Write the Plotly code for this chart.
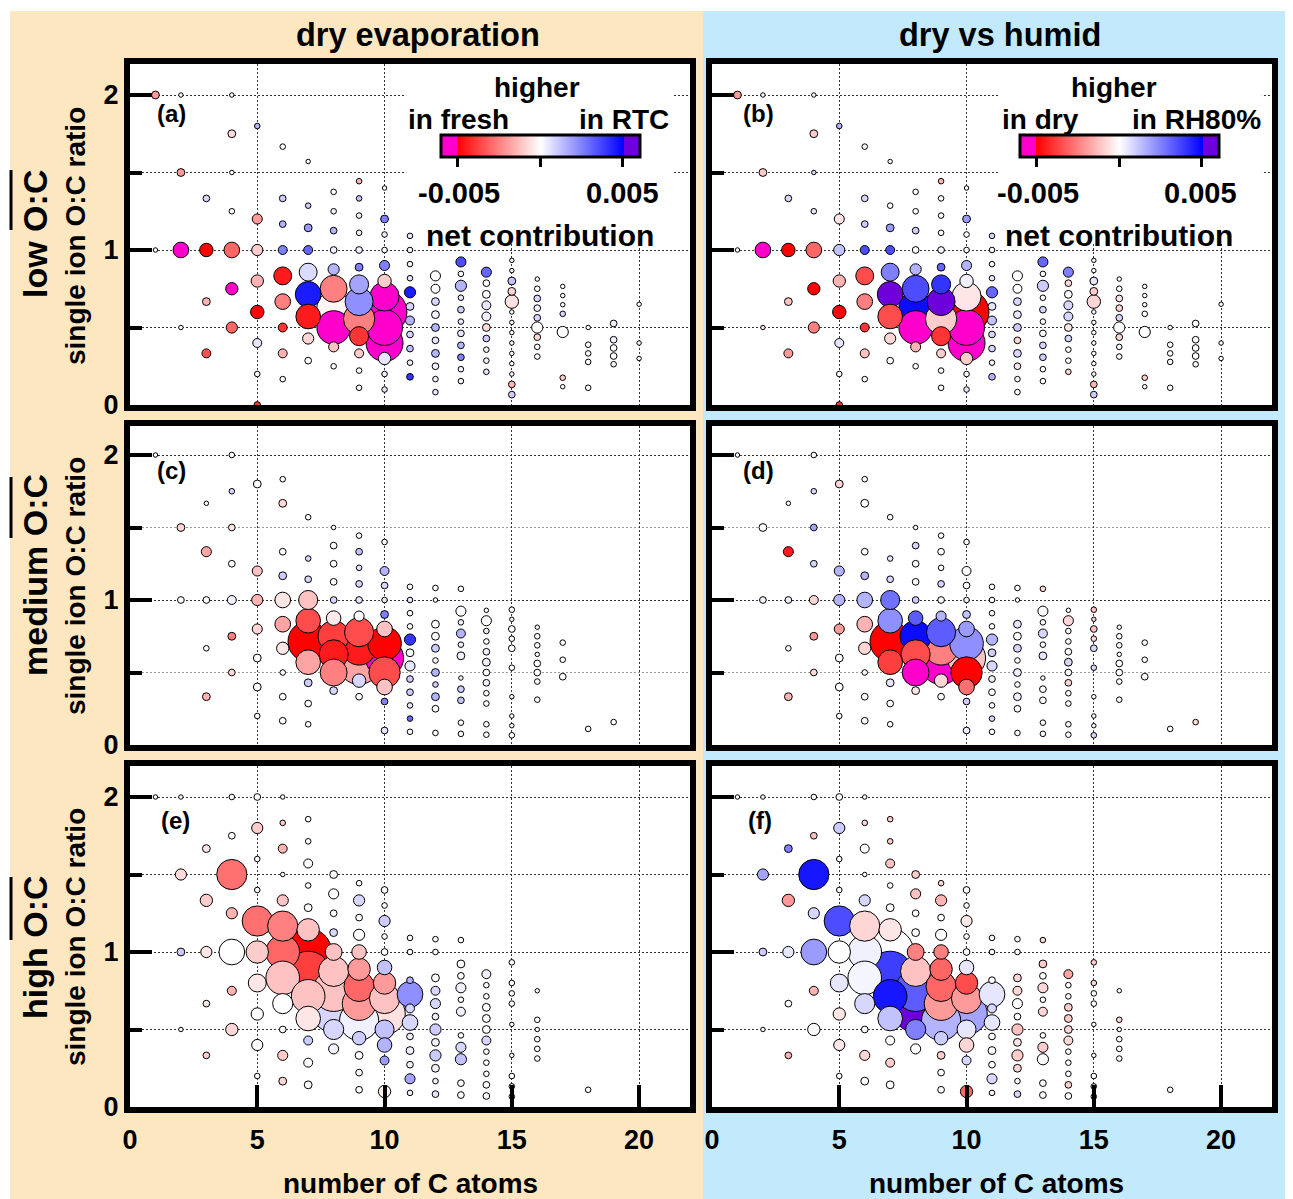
import plotly.graph_objects as go
import numpy as np

W, H = 1293, 1199
FONT = "Liberation Sans, Arial, sans-serif"

# ---------------- DATA ----------------
# each row: carbon numbers, and per carbon number: O:C ratios, relative signal (bubble size),
# net contribution (x1e-3) for "dry evaporation" (fresh vs RTC) and "dry vs humid" (dry vs RH80%)

LOW_C = [1, 2, 3, 4, 5, 6, 7, 8, 9, 10, 11, 12, 13, 14, 15, 16, 17, 18, 19, 20]
LOW_OC = [
    [2.0, 1.0],
    [2.0, 1.5, 1.0, 0.5],
    [1.333, 1.0, 0.667, 0.333],
    [2.0, 1.75, 1.5, 1.25, 1.0, 0.75, 0.5],
    [1.8, 1.2, 1.0, 0.8, 0.6, 0.4, 0.2, 0.0],
    [1.667, 1.333, 1.167, 1.0, 0.833, 0.667, 0.5, 0.333, 0.167],
    [1.571, 1.286, 1.143, 1.0, 0.857, 0.714, 0.571, 0.429, 0.286],
    [1.375, 1.25, 1.125, 1.0, 0.875, 0.75, 0.625, 0.5, 0.375, 0.25],
    [1.444, 1.333, 1.222, 1.111, 1.0, 0.889, 0.778, 0.667, 0.556, 0.444, 0.333, 0.222, 0.111],
    [1.4, 1.2, 1.1, 1.0, 0.9, 0.8, 0.7, 0.6, 0.5, 0.4, 0.3, 0.2, 0.1],
    [1.091, 1.0, 0.909, 0.818, 0.727, 0.636, 0.545, 0.455, 0.364, 0.273, 0.182],
    [0.833, 0.75, 0.667, 0.583, 0.5, 0.417, 0.333, 0.25, 0.167, 0.083],
    [0.923, 0.846, 0.769, 0.692, 0.615, 0.538, 0.462, 0.385, 0.308, 0.231, 0.154],
    [0.857, 0.786, 0.714, 0.643, 0.571, 0.5, 0.429, 0.357, 0.286, 0.214],
    [0.933, 0.867, 0.8, 0.733, 0.667, 0.6, 0.533, 0.467, 0.4, 0.333, 0.267, 0.2, 0.133, 0.067],
    [0.8125, 0.75, 0.6875, 0.625, 0.5625, 0.5, 0.4375, 0.375, 0.3125],
    [0.765, 0.706, 0.647, 0.588, 0.471, 0.176, 0.118],
    [0.5, 0.389, 0.333, 0.278, 0.111],
    [0.526, 0.421, 0.368, 0.316, 0.263],
    [0.65, 0.4, 0.3],
]
LOW_SIG = [
    [7, 4],
    [4, 7, 14, 4],
    [6, 12, 7, 8],
    [4, 7, 4, 5, 14, 11, 10],
    [5, 9, 10, 11, 12, 8, 5, 6],
    [5, 6, 6, 8, 16, 14, 8, 8, 5],
    [4, 5, 7, 8, 16, 23, 22, 10, 6],
    [5, 5, 6, 6, 10, 24, 30, 30, 9, 5],
    [5, 5, 5, 5, 6, 7, 17, 25, 28, 17, 8, 5, 5],
    [4, 7, 5, 5, 9, 12, 26, 40, 32, 33, 11, 5, 5],
    [5, 5, 5, 5, 10, 7, 8, 6, 6, 5, 6],
    [9, 8, 7, 7, 7, 6, 7, 6, 5, 5],
    [9, 5, 10, 5, 6, 5, 6, 6, 6, 5, 5],
    [9, 6, 7, 8, 8, 7, 6, 5, 5, 5],
    [4, 4, 7, 7, 12, 4, 4, 4, 4, 4, 4, 4, 6, 6],
    [4, 5, 6, 6, 6, 10, 6, 5, 5],
    [4, 4, 4, 5, 10, 5, 4],
    [4, 5, 5, 5, 5],
    [6, 6, 6, 6, 5],
    [4, 4, 4],
]
LOW_EVAP = [
    [-2, 0],
    [0, -2, -6, 0],
    [0.8, -5, -1.5, -3.5],
    [0, -0.7, 0, 0, -3, -6, -3],
    [1.5, -2, -1, -1.5, -5, 0.5, 0, -4],
    [0, 1, 1.5, 2.5, -4.5, -2.5, -4, -1.5, 0],
    [0, 1, 2, 3, 0.7, 4.5, -4.5, -0.8, 0],
    [0, 0.3, 1.5, 0.3, 1.5, -2.5, -0.2, -6, -1.2, 0],
    [-1.5, 1.2, 0.3, 0.3, 0.2, 2.5, 1.8, 2.2, -2.5, -4, -1, 0, 0],
    [0, 2.5, 0.3, 0, 2.5, -1, -6, -6, -6, -6, 0.5, 0.3, 0.5],
    [0.5, 0.2, 0.2, 0.5, 4.5, 0.8, 1.5, 0.8, 1.2, 0.3, 4],
    [0, 0, 0.8, 0.3, 1.5, 0.5, 1.5, 0.3, 0.3, 0.5],
    [3.5, 0, 1.5, 0.5, 1, 0.5, 0.5, 1.5, 2.5, 0.3, 0.3],
    [3, 0, 0, 0.5, 0.3, -0.7, 1, 0.3, 0.3, 0.5],
    [0.3, 0.3, 1.2, -0.8, -0.6, 0, 0, 0, 0, 0, 0, 0, -1.5, 1],
    [0, 0, 0.8, 0.3, 0.8, 0, -0.8, 0, 0],
    [0, 0, 0, 0.8, 0, -1, 0],
    [0, 0, 0, 0, 0],
    [0.3, 0.3, 0, 0, 0],
    [0, 0, 0],
]
LOW_HUMID = [
    [-2, 0],
    [0, -1, -6, -0.5],
    [0.8, -5, -1.2, -2],
    [0, -1, 0.8, 0.5, -3, -5, -2.5],
    [1.5, -0.5, 1.2, -1.5, -5, 0.5, 0, -4],
    [0, 0.8, 1, 3.5, -3.5, -2.5, -4, -1.2, 0],
    [0, 0, 2, 3.5, 2.5, 5.8, -3.5, -0.8, 0],
    [0, 0, 1, 0, 1.5, 3.5, 4.8, -6, -1.5, 0],
    [-1.5, 0, 0, 0, 0.2, 3, 4, 5.8, -1, -4, -1, 0, 0],
    [0, 2, 0, 0, 1.5, 0.3, -0.5, -5, -6, -6, -1, 0, 0.5],
    [0.8, 0.2, 0.2, 0.5, 3, 0.5, 1.2, 0.8, 0.8, 0.3, 1.5],
    [0, 0, 0.8, 0.5, 1, -0.8, 0.8, -0.5, 0, 0],
    [3, 0, 1, 0, 0.8, 0, 0, 0.8, 1, 0, 0],
    [2.5, -0.8, 0, 0.8, 0.8, -0.5, 0.8, 0, 0, -0.8],
    [0.3, 0, 0.5, -1, -0.8, 0, 0, 0, 0, 0, 0, 0, -1.5, 1],
    [0, 0, -0.5, -0.8, 0.8, 0, -0.8, 0, 0],
    [0, 0, 0, 0, 0, -1, 0],
    [0, 0, 0, 0, 0],
    [0, 0, 0, 0, 0],
    [0, 0, 0],
]

MED_C = [1, 2, 3, 4, 5, 6, 7, 8, 9, 10, 11, 12, 13, 14, 15, 16, 17, 18, 19]
MED_OC = [
    [2.0],
    [1.5, 1.0],
    [1.667, 1.333, 1.0, 0.667, 0.333],
    [2.0, 1.75, 1.5, 1.25, 1.0, 0.75, 0.5],
    [1.8, 1.2, 1.0, 0.8, 0.6, 0.4, 0.2],
    [1.833, 1.667, 1.333, 1.167, 1.0, 0.833, 0.667, 0.5, 0.333, 0.167],
    [1.571, 1.286, 1.143, 1.0, 0.857, 0.714, 0.571, 0.429, 0.286, 0.143],
    [1.5, 1.375, 1.25, 1.125, 1.0, 0.875, 0.75, 0.625, 0.5, 0.375],
    [1.444, 1.333, 1.222, 1.111, 1.0, 0.889, 0.778, 0.667, 0.556, 0.444, 0.333],
    [1.4, 1.2, 1.1, 1.0, 0.9, 0.8, 0.7, 0.6, 0.5, 0.4, 0.3, 0.1],
    [1.091, 1.0, 0.909, 0.818, 0.727, 0.636, 0.545, 0.455, 0.364, 0.273, 0.182, 0.091],
    [1.083, 1.0, 0.833, 0.75, 0.667, 0.583, 0.5, 0.417, 0.333, 0.25, 0.083],
    [1.077, 0.923, 0.846, 0.769, 0.692, 0.615, 0.462, 0.385, 0.308, 0.154, 0.077],
    [0.929, 0.857, 0.786, 0.714, 0.643, 0.571, 0.5, 0.429, 0.357, 0.286, 0.143, 0.071],
    [0.933, 0.867, 0.8, 0.733, 0.667, 0.533, 0.333, 0.2, 0.133, 0.067],
    [0.8125, 0.75, 0.6875, 0.625, 0.5625, 0.5, 0.4375, 0.3125],
    [0.706, 0.588, 0.471],
    [0.111],
    [0.158],
]
MED_SIG = [
    [4],
    [7, 6],
    [4, 9, 6, 5, 7],
    [5, 5, 6, 6, 8, 7, 6],
    [7, 9, 10, 9, 7, 7, 5],
    [5, 7, 6, 7, 14, 14, 11, 5, 6, 6],
    [5, 5, 6, 17, 22, 36, 22, 7, 6, 5],
    [4, 6, 6, 6, 6, 13, 28, 26, 24, 7],
    [5, 6, 5, 6, 6, 9, 26, 30, 36, 12, 6],
    [5, 8, 6, 5, 7, 14, 30, 34, 28, 14, 6, 6],
    [5, 5, 5, 5, 10, 7, 9, 6, 6, 5, 5, 5],
    [5, 4, 7, 7, 7, 5, 7, 5, 7, 6, 5],
    [5, 9, 5, 8, 5, 7, 4, 6, 6, 5, 5],
    [4, 9, 5, 5, 6, 7, 6, 6, 5, 5, 5, 5],
    [5, 4, 6, 5, 6, 5, 4, 4, 4, 5],
    [4, 5, 5, 4, 6, 6, 5, 5],
    [5, 5, 6],
    [5],
    [5],
]
MED_EVAP = [
    [0],
    [-0.8, 0],
    [0, -1.8, 0, 0, -1.5],
    [0, 0.8, -0.5, 0, 0.3, -2.5, -0.7],
    [0, -1.2, -1.5, -0.8, 0, 0, 0],
    [0, -0.7, 0, 1, -0.5, -1.8, -0.5, 0, 0, 0],
    [0, 0.8, 0.8, -1.2, -3.5, -5, -1.8, 1, 0, 0],
    [0, 0, 0, 0, 0.8, -0.4, -3.8, -4.5, -2.5, 0.8],
    [0, 1.2, 0.5, 0.8, 0.5, 0, -3.5, -4.5, -1.8, 0.8, 0],
    [0, 1.5, 0.8, 0.5, 2.5, -1.2, -5, -6, -3.5, -1.2, 2.5, 0.5],
    [0, 0.5, 0, 0, 4, 0, 0.5, 1, 1, 0.5, 3, 0],
    [0, 0, 0, 0, 1, 0, 1.5, 1, 1.5, 0, 0],
    [0, 0, 0.3, 1.5, 0.3, 0.3, 0, 1, 1.2, 0, 0],
    [0, 0, 0.3, 0, 0.3, 0.3, 0, 0.3, 0, 0, 0, 0],
    [0, 0, 0, 0, 0, 0, 0, 0, 0, 0],
    [0, 0, 0, 0, 0, 0, 0, 0],
    [0, 0, 0],
    [0],
    [0],
]
MED_HUMID = [
    [0],
    [0, 0.3],
    [0, -4.5, 0.3, 0, -1.5],
    [0, 0.8, 1.8, 0.8, -0.8, -2, -0.7],
    [-0.8, 1.5, 1.5, -2, 0, 0, 0],
    [0, 0, 0, 1.5, 1.5, -1.5, -0.8, 0, 0, 0],
    [0, 0.5, 0.8, 2.8, 2.2, -5, -3.8, 0.5, 0, 0],
    [0, 0.8, 0, 0, 1, 3.2, 4.8, -3.5, -6, -0.5],
    [0, 0, 0, 0.8, 0, 1.5, 3.2, -2.5, -6, -0.8, 0],
    [0, 0, 0, 0.3, 1.2, 2, 2.2, -1.2, -5, -2.8, 1, 0.3],
    [0, 0, 0, 0, 1.5, 1, 0.8, 0.3, 0, 0, 0.8, 0],
    [0, 0, 0.5, 0, 0.8, 0, 0.3, 0, 0.3, 0, 0],
    [-0.7, 0, 0, 0.8, 0, 0.5, 0, 0, 0, 0, 0],
    [0, -0.8, 0, 0, 0, 0.8, 0, -0.8, 0, 0, 0, 0],
    [-1.2, -1, -1.2, -0.8, 0.8, 0.8, 0, 0, 0, 0.8],
    [0, 0, 0, 0, 0, 0, 0, 0],
    [0, 0, 0],
    [0],
    [-0.7],
]

HIGH_C = [1, 2, 3, 4, 5, 6, 7, 8, 9, 10, 11, 12, 13, 14, 15, 16, 18]
HIGH_OC = [
    [2.0],
    [2.0, 1.5, 1.0, 0.5],
    [1.667, 1.333, 1.0, 0.667, 0.333],
    [2.0, 1.75, 1.5, 1.25, 1.0, 0.75, 0.5],
    [2.0, 1.8, 1.6, 1.4, 1.2, 1.0, 0.8, 0.6, 0.4, 0.2],
    [2.0, 1.833, 1.667, 1.5, 1.333, 1.167, 1.0, 0.833, 0.667, 0.5, 0.333, 0.167],
    [1.857, 1.714, 1.571, 1.429, 1.286, 1.143, 1.0, 0.857, 0.714, 0.571, 0.429, 0.286, 0.143],
    [1.5, 1.375, 1.25, 1.125, 1.0, 0.875, 0.75, 0.625, 0.5, 0.375],
    [1.444, 1.333, 1.222, 1.111, 1.0, 0.889, 0.778, 0.667, 0.556, 0.444, 0.333, 0.222, 0.111],
    [1.4, 1.3, 1.2, 1.1, 1.0, 0.9, 0.8, 0.7, 0.6, 0.5, 0.4, 0.3, 0.1],
    [1.091, 1.0, 0.818, 0.727, 0.636, 0.545, 0.455, 0.364, 0.273, 0.182, 0.091],
    [1.083, 1.0, 0.833, 0.75, 0.667, 0.583, 0.5, 0.417, 0.333, 0.25, 0.167, 0.083],
    [1.077, 0.923, 0.846, 0.769, 0.692, 0.615, 0.462, 0.385, 0.308, 0.154, 0.077],
    [0.857, 0.786, 0.714, 0.643, 0.571, 0.5, 0.429, 0.357, 0.286, 0.214, 0.143, 0.071],
    [0.933, 0.8, 0.733, 0.667, 0.533, 0.333, 0.2, 0.133, 0.067],
    [0.75, 0.5625, 0.5, 0.4375, 0.375, 0.3125],
    [0.111],
]
HIGH_SIG = [
    [4],
    [4, 10, 7, 4],
    [7, 11, 10, 6, 6],
    [5, 6, 27, 10, 23, 8, 11],
    [6, 10, 5, 5, 27, 20, 16, 11, 10, 5],
    [4, 5, 8, 4, 10, 27, 30, 30, 18, 6, 9, 7],
    [5, 5, 8, 5, 7, 20, 42, 41, 30, 22, 8, 8, 7],
    [7, 9, 6, 7, 15, 27, 37, 40, 18, 9],
    [5, 10, 6, 10, 13, 20, 27, 30, 35, 12, 7, 6, 6],
    [6, 5, 10, 5, 6, 13, 20, 27, 37, 17, 13, 8, 11],
    [5, 5, 6, 23, 8, 14, 6, 7, 6, 9, 5],
    [5, 5, 7, 8, 9, 6, 10, 7, 10, 7, 5, 6],
    [5, 7, 6, 9, 5, 8, 5, 9, 10, 6, 6],
    [8, 5, 5, 7, 7, 7, 8, 5, 5, 5, 6, 6],
    [5, 5, 5, 5, 4, 4, 5, 5, 5],
    [4, 5, 4, 5, 5, 5],
    [5],
]
HIGH_EVAP = [
    [0],
    [0, -0.7, 1, 0],
    [-0.5, -1, -0.5, -0.5, -1],
    [0, 0, -2.8, -1.5, 0, -1.5, -0.8],
    [0, -1, 0, 0, -2.8, -1, -0.5, 0, 0, 0],
    [0, -1, -1.5, 0, -1.2, -2.5, -3, -1.2, 0, 0, -1, -0.8],
    [0, 0, 0, 0, 0, -1.2, -5, -3.8, -1.2, -0.5, 1, 0, 0],
    [0, 0, 0, 0.8, -1.2, -1.2, -1.2, 0.8, 0.8, 0.3],
    [0, 0.8, 0, 0, -1.2, -2, -3, -2, 0.3, 1, 0, 0, 0],
    [0, 0, 1, 0, 0, 1.2, -2, -1.2, -0.6, 1.2, 1.5, 2, -0.3],
    [0, 0, 1.5, 2.2, 0.8, 0.8, 0.3, 0.3, 0.3, 1.8, 0.3],
    [0, 0, 0, 0.8, 0.8, 0.3, 1, 0.3, 1, 0.3, 0.3, 0.5],
    [0, 0, 0, 0.3, 0, 0.3, 0, 0.8, 1.2, 0, 0],
    [0.3, 0, 0, 0, 0, 0, 0.8, 0, 0, 0, 0, 0],
    [0, 0, 0, 0, 0, 0, 0, 0, 0],
    [0, 0, 0, 0, 0, 0],
    [0],
]
HIGH_HUMID = [
    [0],
    [0, 1.8, 1, 0],
    [2.5, -2, 0.5, 0, -1.5],
    [0, -1.2, 4.6, 0.8, 2, -1.5, 0],
    [0, 1, 0, 0, 3.5, 0, 0.5, -0.5, -0.5, 0],
    [0, -0.8, 0, 0, 0.8, -0.8, 0.3, 0.2, 0.8, 0, -0.8, 0],
    [-1, -1, -1.2, 0, 0, -0.5, 0, 3.8, 4.6, 1.2, 0, -1, 0],
    [-1, -1.2, 0, 0, -2.5, -1.2, 3.2, 6, 2.5, 0],
    [-0.8, -1.5, 0, 0, -2.5, -3, -3, -2, 1.5, 1, -1, 0, 0],
    [0, 0, -0.5, 0, 0, 0.5, -3.5, -2, 1.8, 0.5, -0.8, 0.8, -3],
    [0, 0, 0, 0.5, 0.8, 0.5, 0, 0, 0, 0.8, -0.3],
    [0, 0, -0.8, -0.8, 0, 0, -1.2, -0.5, -1, -0.8, 0, 0.8],
    [-0.8, -1, 0, -0.8, 0, -0.8, 0, -1, 0, 0, 0],
    [-1.8, 0, 0, -1, -1, -0.8, -0.8, 0, 0, 0, -1, 0],
    [-1, -0.8, 0, 0, 0, 0, 0, -0.8, 0],
    [0, -0.8, 0, 0, 0, 0],
    [0],
]

X_TICKS = [0, 5, 10, 15, 20]
Y_TICKS = [0, 1, 2]
Y_MINOR = [0.5, 1.5]
CB_TICKS = [-5, 0, 5]
CB_TICKTEXT = ["-0.005", "0.005"]
COL_TITLES = ["dry evaporation", "dry vs humid"]
ROW_TITLES = ["low O:C", "medium O:C", "high O:C"]
PANEL_LABELS = ["(a)", "(b)", "(c)", "(d)", "(e)", "(f)"]

# ---------------- helpers ----------------
# map target screen pixel positions to paper fractions (page shows the figure with an 8px offset)
OX, OY = 8.0, 8.0
SIZE_SCALE = 1.12  # px of marker diameter per unit of relative signal

def fx(px):
    return (px - OX) / W

def fy(py):
    return 1 - (py - OY) / H

def flatten(cs, ocs, sigs, va, vb):
    x, y, s, a, b = [], [], [], [], []
    for c, o, sg, ea, eb in zip(cs, ocs, sigs, va, vb):
        assert len(o) == len(sg) == len(ea) == len(eb), (c, len(o), len(sg), len(ea), len(eb))
        x += [c] * len(o); y += o; s += sg; a += ea; b += eb
    return np.array(x, float), np.array(y, float), np.array(s, float), np.array(a, float), np.array(b, float)

CS = [[0, "#FF00CC"], [0.08, "#FF00CC"], [0.081, "#FF0000"], [0.5, "#FFFFFF"],
      [0.919, "#0000FF"], [0.92, "#6E00DC"], [1, "#6E00DC"]]

cols_px = [(130, 690), (712, 1272)]
rows_px = [(64, 405), (426, 745), (766, 1107)]

fig = go.Figure()
rows_data = [
    (LOW_C, LOW_OC, LOW_SIG, LOW_EVAP, LOW_HUMID),
    (MED_C, MED_OC, MED_SIG, MED_EVAP, MED_HUMID),
    (HIGH_C, HIGH_OC, HIGH_SIG, HIGH_EVAP, HIGH_HUMID),
]

shapes = [
    dict(type="rect", xref="paper", yref="paper", x0=fx(10), x1=fx(703), y0=0, y1=fy(11),
         fillcolor="#FDE7C1", line=dict(width=0), layer="below"),
    dict(type="rect", xref="paper", yref="paper", x0=fx(703), x1=1, y0=0, y1=fy(11),
         fillcolor="#C2E9FC", line=dict(width=0), layer="below"),
]

layout_axes = {}
for r, data in enumerate(rows_data):
    x, y, s, a, b = flatten(*data)
    order = np.argsort(-s, kind="stable")
    for c, col in enumerate([a, b]):
        idx = r * 2 + c + 1
        xa = "x" if idx == 1 else f"x{idx}"
        ya = "y" if idx == 1 else f"y{idx}"
        fig.add_trace(go.Scatter(
            x=x[order], y=y[order], mode="markers", xaxis=xa, yaxis=ya,
            marker=dict(size=s[order] * SIZE_SCALE, sizemode="diameter", color=col[order],
                        coloraxis="coloraxis" if c == 0 else "coloraxis2",
                        line=dict(color="black", width=1), opacity=1),
            showlegend=False, hoverinfo="skip"))
        bottom = (r == 2)
        left = (c == 0)
        minor_col = "#9a9a9a" if r == 1 else "#333333"
        xd = [fx(cols_px[c][0]), fx(cols_px[c][1])]
        yd = [fy(rows_px[r][1]), fy(rows_px[r][0])]
        # white plotting area
        shapes.append(dict(type="rect", xref="paper", yref="paper", x0=xd[0], x1=xd[1],
                           y0=yd[0], y1=yd[1], fillcolor="white", line=dict(width=0),
                           layer="below"))
        layout_axes["xaxis" if idx == 1 else f"xaxis{idx}"] = dict(
            domain=xd, anchor=ya, automargin=False,
            range=[0, 22], tickvals=X_TICKS, showgrid=True, gridcolor="#333333",
            gridwidth=1, griddash="2px,2px", zeroline=False,
            showline=True, linewidth=6, linecolor="black", mirror=True,
            ticks="inside" if bottom else "", ticklen=22, tickwidth=4, tickcolor="black",
            showticklabels=bottom, ticklabelstandoff=4,
            tickfont=dict(family=FONT, size=27, color="black", weight="bold"))
        layout_axes["yaxis" if idx == 1 else f"yaxis{idx}"] = dict(
            domain=yd, anchor=xa, automargin=False,
            range=[0, 2.2], tickvals=Y_TICKS, showgrid=True, gridcolor="#333333",
            gridwidth=1, griddash="2px,2px", zeroline=False,
            showline=True, linewidth=6, linecolor="black", mirror=True,
            ticks="inside", ticklen=22, tickwidth=4, tickcolor="black",
            minor=dict(tickvals=Y_MINOR, ticks="inside", ticklen=12, tickwidth=4,
                       tickcolor="black", showgrid=True, gridcolor=minor_col,
                       gridwidth=1, griddash="2px,2px"),
            showticklabels=left, ticklabelstandoff=0,
            tickfont=dict(family=FONT, size=27, color="black", weight="bold"))

shapes += [
    dict(type="rect", xref="x", yref="y", x0=10.85, x1=21.3, y0=1.04, y1=2.2,
         fillcolor="white", line=dict(width=0), layer="between"),
    dict(type="rect", xref="x2", yref="y2", x0=11.3, x1=21.6, y0=1.04, y1=2.2,
         fillcolor="white", line=dict(width=0), layer="between"),
]
# overlines over "O:C" in row titles
for (t0, t1) in [(170, 230), (477, 538), (877, 940)]:
    shapes.append(dict(type="line", xref="paper", yref="paper", x0=fx(11), x1=fx(11),
                       y0=fy(t0), y1=fy(t1), line=dict(color="black", width=3)))

def cbar(cx):
    return dict(orientation="h", x=fx(cx), xanchor="center", y=fy(135), yanchor="top",
                len=199, lenmode="pixels", thickness=22, thicknessmode="pixels",
                outlinewidth=3, outlinecolor="black", tickvals=CB_TICKS, ticks="outside",
                ticklen=9, tickwidth=3, tickcolor="black", showticklabels=False,
                xpad=0, ypad=0, bgcolor="rgba(0,0,0,0)")

def ann(text, px, py, size, angle=0):
    return dict(text=text, x=fx(px), y=fy(py), xref="paper", yref="paper",
                xanchor="center", yanchor="middle", showarrow=False, textangle=angle,
                font=dict(family=FONT, size=size, color="black", weight="bold"))

anns = [
    ann(COL_TITLES[0], 418, 35, 32.5), ann(COL_TITLES[1], 1000, 35, 32.5),
    ann("number of C atoms", 410, 1183, 28), ann("number of C atoms", 996, 1183, 28),
]
for title, (ty, sy) in zip(ROW_TITLES, [(234, 236), (575, 586), (947, 937)]):
    anns.append(ann(title, 35, ty, 34, -90))
    anns.append(ann("single ion O:C ratio", 75, sy, 28, -90))
for lab, (lx, ly) in zip(PANEL_LABELS, [(171, 113), (758, 113), (171, 470), (758, 470), (175, 821), (760, 821)]):
    anns.append(ann(lab, lx, ly, 24))
# colour-bar legends
for (hx, l1, l1x, l2, l2x, tx0, tx1, nx) in [
        (537, "in fresh", 458, "in RTC", 624, 459, 622, 540),
        (1114, "in dry", 1040, "in RH80%", 1196, 1038, 1200, 1119)]:
    anns += [ann("higher", hx, 88, 28), ann(l1, l1x, 120, 28), ann(l2, l2x, 120, 28),
             ann(CB_TICKTEXT[0], tx0, 193, 29), ann(CB_TICKTEXT[1], tx1, 193, 29),
             ann("net contribution", nx, 235, 30)]

fig.update_layout(
    width=W, height=H, margin=dict(l=0, r=0, t=0, b=0, autoexpand=False),
    paper_bgcolor="white", plot_bgcolor="white", showlegend=False,
    coloraxis=dict(colorscale=CS, cmin=-6, cmax=6, colorbar=cbar(540)),
    coloraxis2=dict(colorscale=CS, cmin=-6, cmax=6, colorbar=cbar(1119)),
    shapes=shapes, annotations=anns, **layout_axes)

fig.write_html("out.html")
